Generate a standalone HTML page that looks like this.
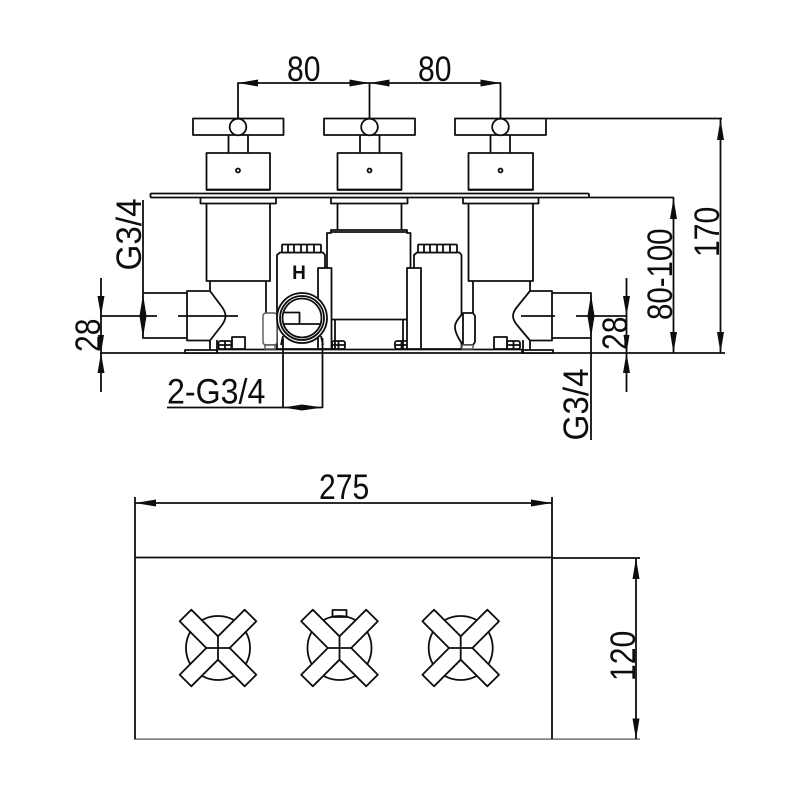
<!DOCTYPE html>
<html><head><meta charset="utf-8"><style>
html,body{margin:0;padding:0;background:#fff;width:800px;height:800px;overflow:hidden}
svg{display:block}
text{font-family:"Liberation Sans",sans-serif;fill:#111;font-size:35px}
.l{fill:none;stroke:#111;stroke-width:1.8;stroke-linejoin:round}
.w{fill:#fff;stroke:#111;stroke-width:1.8;stroke-linejoin:round}
.g{fill:#fff;stroke:#555;stroke-width:1.4;stroke-linejoin:round}
.a{fill:#111;stroke:none}
</style></head><body>
<svg width="800" height="800" viewBox="0 0 800 800" xmlns="http://www.w3.org/2000/svg">
<defs><filter id="b" x="0" y="0" width="100%" height="100%"><feGaussianBlur stdDeviation="0.35"/></filter></defs>
<g filter="url(#b)">
<!-- top dimensions -->
<path class="l" d="M238 118V83H500.5V118M369.5 83V118"/>
<path class="a" d="M238 83l20-3.5v7zM369.5 83l-20-3.5v7zM369.5 83l20-3.5v7zM500.5 83l-20-3.5v7z"/>
<text transform="translate(287,81) scale(.86,1)">80</text>
<text transform="translate(418,81) scale(.86,1)">80</text>

<!-- handles -->
<g>
<path class="l" d="M228.5 135V153M248 135V153"/>
<rect class="w" x="193" y="118.5" width="90.5" height="16.5"/>
<circle class="w" cx="238" cy="127" r="8.3"/>
<rect class="w" x="206.5" y="153" width="63.5" height="37"/>
<circle class="l" cx="238" cy="170.5" r="2"/>
<path class="l" d="M206.5 189.5H270"/>
<rect class="w" x="200.5" y="197.5" width="75.5" height="6"/>
</g>
<g>
<path class="l" d="M360 135V153M379.5 135V153"/>
<rect class="w" x="324" y="118.5" width="91" height="16.5"/>
<circle class="w" cx="369.5" cy="127" r="8.3"/>
<rect class="w" x="337.5" y="153" width="64" height="37"/>
<circle class="l" cx="369.5" cy="170.5" r="2"/>
<path class="l" d="M337.5 189.5H401.5"/>
<rect class="w" x="331" y="197.5" width="76.5" height="6"/>
</g>
<g>
<path class="l" d="M490.5 135V153M510 135V153"/>
<rect class="w" x="455" y="118.5" width="91" height="16.5"/>
<circle class="w" cx="500.5" cy="127" r="8.3"/>
<rect class="w" x="468.5" y="153" width="64.5" height="37"/>
<circle class="l" cx="500.5" cy="170.5" r="2"/>
<path class="l" d="M468.5 189.5H533"/>
<rect class="w" x="463" y="197.5" width="75.5" height="6"/>
</g>
<!-- plate -->
<rect class="w" x="150.5" y="193.5" width="438.5" height="4" rx="1"/>
<path class="l" d="M589 197.5H674"/>
<path class="l" d="M546 118.5H722"/>

<!-- bodies -->
<path class="l" d="M206.5 203.5V281H270V203.5"/>
<path class="l" d="M468.5 203.5V281H533V203.5"/>
<path class="l" d="M337.5 203.5V230M401.5 203.5V230"/>
<path class="w" d="M327 319.5V233H331V230H407V233H410.5V268H408V319.5Z"/>
<path class="l" d="M331 232H407" stroke-width="2.5"/>

<!-- base -->
<path class="l" d="M217 349.5H522"/>
<path class="l" d="M100 353H725" stroke-width="1.8"/>
<rect class="w" x="185" y="350" width="32" height="3"/>
<rect class="w" x="522" y="350" width="31" height="3"/>
<path class="l" d="M210 340V350M217 340V353M530 340V350M523 340V353"/>

<!-- hex -->
<path class="l" d="M210 281V291M530 281V291"/>
<path class="w" d="M187 291H210L222 307Q225.5 312 225.5 316Q225.5 320 222 325L210 340.5H187Z"/>
<path class="w" d="M552 291H530L517 307Q513 312 513 316Q513 320 517 325L530 340.5H552Z"/>

<!-- dims ext -->
<path class="l" d="M187 293H143V338H187M143 200V293"/>
<path class="l" d="M552 293H591V440M552 338H591"/>
<path class="a" d="M143 294l-3.5 22h7zM143 338l-3.5-22h7zM591 294l-3.5 22h7zM591 338l-3.5-22h7z"/>
<path class="l" d="M100 316H157M178 316H238M521 316H555M576 316H627"/>
<path class="l" d="M101 278V392M626.5 278V392"/>
<path class="a" d="M101 316l-3.5-20h7zM101 353l-3.5 20h7zM626.5 316l-3.500-20h7zM626.5 353l-3.5 20h7zM101 353l-3-18h6zM626.5 353l-3-18h6z"/>

<!-- small blocks and nuts -->
<rect class="w" x="232" y="337" width="13" height="12"/>
<rect class="w" x="494" y="337" width="13" height="12"/>
<g class="l"><rect x="218.5" y="341" width="13" height="8" rx="2"/><path d="M218.5 345H231.5M225 341V349"/>
<rect x="332" y="341" width="13" height="8" rx="2"/><path d="M332 345H345M338.5 341V349"/>
<rect x="395" y="341" width="13" height="8" rx="2"/><path d="M395 345H408M401.5 341V349"/>
<rect x="507" y="341" width="13" height="8" rx="2"/><path d="M507 345H520M513.5 341V349"/></g>
<path class="l" d="M266 281V313M473 281V313M335 319.5V349M403 319.5V349"/>

<!-- H box left -->
<path class="w" d="M277 349V255L280 252.5H323L325 255V349Z"/>
<rect class="w" x="282" y="244.5" width="39" height="8" rx="1"/>
<path class="l" d="M288 244.5V252.5M294 244.5V252.5M301 244.5V252.5M307 244.5V252.5M314 244.5V252.5"/>
<rect class="w" x="318" y="268" width="13.5" height="81"/>
<text x="299" y="279" text-anchor="middle" style="font-size:19px;font-weight:bold">H</text>

<!-- right box -->
<path class="w" d="M414 349V255L417 252.5H459.5L461.5 255V349Z"/>
<rect class="w" x="418" y="244.5" width="39" height="8" rx="1"/>
<path class="l" d="M424 244.5V252.5M430 244.5V252.5M437 244.5V252.5M443 244.5V252.5M450 244.5V252.5"/>
<rect class="w" x="407" y="268" width="14" height="81"/>

<!-- gaskets -->
<rect class="g" x="263" y="313" width="14" height="32" rx="3"/>
<rect class="g" x="265" y="345" width="10" height="4"/>
<path class="w" d="M463 313H473L475 316V342L473 345H463C458 338 455 332 455 327C455 322 459 318 463 313Z"/>
<path class="l" d="M463 313V345"/>
<rect class="g" x="462" y="345" width="11" height="4"/>

<!-- circle fitting -->
<path class="l" d="M281 345L283 336M323 345L321 336"/>
<circle class="w" cx="302" cy="318" r="25" stroke-width="2.4"/>
<circle class="l" cx="302" cy="318" r="22"/>
<circle class="l" cx="302" cy="318" r="19.5"/>
<path class="l" d="M284 312.5H299.5V324M283 324H321"/>
<path class="l" d="M283 338V408M322.5 338V408"/>
<path class="l" d="M167 407.5H322.5"/>
<path class="a" d="M283 407.5l19-3v6zM322.5 407.5l-20.5-3v6z"/>

<!-- side dims -->
<path class="l" d="M673.5 197.5V353M720.5 118.5V353"/>
<path class="a" d="M673.5 198l-3.5 21h7zM673.5 353l-3.5-21h7zM720.5 119l-3.5 21h7zM720.5 353l-3.5-21h7z"/>

<!-- labels -->
<text transform="translate(141,270.5) rotate(-90) scale(.95,1)">G3/4</text>
<text transform="translate(100,352) rotate(-90) scale(.86,1)">28</text>
<text transform="translate(627,350) rotate(-90) scale(.86,1)">28</text>
<text transform="translate(588,440.5) rotate(-90) scale(.95,1)">G3/4</text>
<text transform="translate(672,320) rotate(-90) scale(.84,1)">80-100</text>
<text transform="translate(719,257) rotate(-90) scale(.86,1)">170</text>
<text transform="translate(167,403.5) scale(.92,1)">2-G3/4</text>
<text transform="translate(319,499) scale(.86,1)">275</text>
<text transform="translate(635,681) rotate(-90) scale(.86,1)">120</text>

<!-- lower view -->
<path class="l" d="M135 497V557M552 497V557"/>
<path class="l" d="M135 503H552"/>
<path class="a" d="M135 503l21-3.5v7zM552 503l-21-3.5v7z"/>
<rect class="l" x="135" y="557.5" width="417" height="182"/>
<path class="l" d="M552 558H640M552 739.5H640M636 558V739.5"/>
<path class="a" d="M636 558l-3.5 21h7zM636 739.5l-3.5-21h7z"/>

<!-- knobs -->
<g transform="translate(218,648)">
<circle class="l" r="32" stroke-width="2"/>
<path class="w" d="M0-11.7L26.7-38.3L38.3-26.7L11.7 0L38.3 26.7L26.7 38.3L0 11.7L-26.7 38.3L-38.3 26.7L-11.7 0L-38.3-26.7L-26.7-38.3Z"/>
<path class="l" d="M0-11.7V11.7M-11.7 0H11.7"/>
</g>
<g transform="translate(339.5,648)">
<rect class="l" x="-7" y="-38" width="14" height="7"/>
<circle class="l" r="32" stroke-width="2"/>
<path class="w" d="M0-11.7L26.7-38.3L38.3-26.7L11.7 0L38.3 26.7L26.7 38.3L0 11.7L-26.7 38.3L-38.3 26.7L-11.7 0L-38.3-26.7L-26.7-38.3Z"/>
<path class="l" d="M0-11.7V11.7M-11.7 0H11.7"/>
</g>
<g transform="translate(460.7,648)">
<circle class="l" r="32" stroke-width="2"/>
<path class="w" d="M0-11.7L26.7-38.3L38.3-26.7L11.7 0L38.3 26.7L26.7 38.3L0 11.7L-26.7 38.3L-38.3 26.7L-11.7 0L-38.3-26.7L-26.7-38.3Z"/>
<path class="l" d="M0-11.7V11.7M-11.7 0H11.7"/>
</g>
</g>
</svg>
</body></html>
